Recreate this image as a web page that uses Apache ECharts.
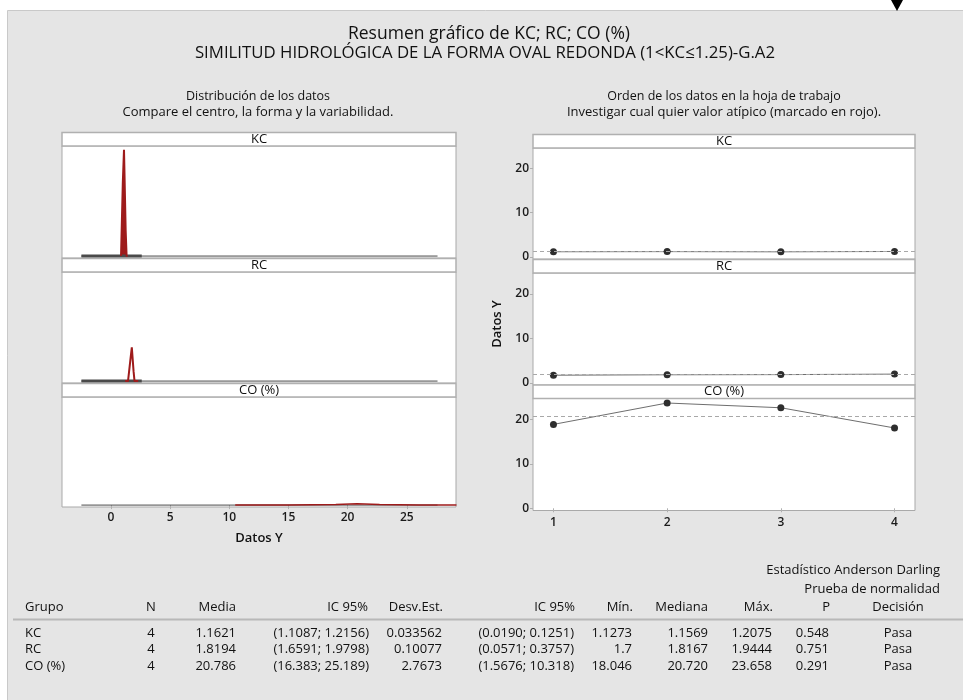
<!DOCTYPE html>
<html>
<head>
<meta charset="utf-8">
<title>Resumen gráfico de KC; RC; CO (%)</title>
<script src="https://cdn.jsdelivr.net/npm/echarts@6/dist/echarts.min.js"></script>
<style>
html, body { margin: 0; padding: 0; background: #fff; }
#main { width: 963px; height: 700px; }
</style>
</head>
<body>
<div id="main"></div>
<script>
// ---- datos ----
const groups = ['KC', 'RC', 'CO (%)'];
const orderX = [1, 2, 3, 4];
const kcValues = [1.1412, 1.1726, 1.1273, 1.2075];
const rcValues = [1.7, 1.7998, 1.8336, 1.9444];
const coValues = [18.85, 23.658, 22.59, 18.046];
const means = [1.1621, 1.8194, 20.786];

const kcDensity = [[0.85, 0], [0.95, 0], [1.0, 8.3], [1.08, 8.3], [1.1, 12.0], [1.22, 12.0], [1.24, 2.9], [1.3, 2.9], [1.32, 0], [1.4, 0]];
const rcDensity = [[1.2, 0], [1.44, 0], [1.63, 2.3], [1.76, 3.85], [1.82, 3.85], [1.91, 1.1], [1.99, 0], [2.3, 0]];
const coDensity = [[10.5, 0], [15, 0.02], [19, 0.08], [20.8, 0.14], [22.7, 0.08], [26, 0.02], [29.2, 0]];
const baseSpan = [[-2.5, 0], [27.6, 0]];
const lowSpan = [[-2.5, 0], [2.6, 0]];

const distTicks = [0, 5, 10, 15, 20, 25];
const orderTicks = [0, 10, 20];

// tabla
const colN = ['4', '4', '4'];
const colMedia = ['1.1621', '1.8194', '20.786'];
const colIcMedia = ['(1.1087; 1.2156)', '(1.6591; 1.9798)', '(16.383; 25.189)'];
const colDesv = ['0.033562', '0.10077', '2.7673'];
const colIcDesv = ['(0.0190; 0.1251)', '(0.0571; 0.3757)', '(1.5676; 10.318)'];
const colMin = ['1.1273', '1.7', '18.046'];
const colMediana = ['1.1569', '1.8167', '20.720'];
const colMax = ['1.2075', '1.9444', '23.658'];
const colP = ['0.548', '0.751', '0.291'];
const colDecision = ['Pasa', 'Pasa', 'Pasa'];

const FONT = '"Open Sans", "Noto Sans", sans-serif';
const RED = '#9e1b1b';

let chart = echarts.init(document.getElementById('main'));

function txt(x, y, text, size, align, weight, extra) {
    let el = {
        type: 'text', x: x, y: y, z: 20,
        style: {
            text: text, fontSize: size, fontFamily: FONT, fontWeight: weight || 'normal',
            fill: '#111', align: align || 'left', textAlign: align || 'left',
            verticalAlign: 'middle', textVerticalAlign: 'middle'
        }
    };
    return Object.assign(el, extra || {});
}

// grids: 0-2 distribucion, 3-5 orden
let grids = [
    { left: 62, top: 146, width: 394, height: 112 },
    { left: 62, top: 272, width: 394, height: 111 },
    { left: 62, top: 397, width: 394, height: 110 },
    { left: 533, top: 148, width: 382, height: 111 },
    { left: 533, top: 273, width: 382, height: 112 },
    { left: 533, top: 398.5, width: 382, height: 112 }
].map(g => Object.assign(g, { show: true, backgroundColor: '#fff', borderColor: '#a9a9a9', borderWidth: 1 }));

let xAxes = [], yAxes = [];
for (let i = 0; i < 3; i++) {
    let last = i === 2;
    xAxes.push({
        type: 'value', gridIndex: i, min: -4.14, max: 29.16,
        axisLine: { show: false },
        splitLine: { show: false },
        axisTick: { show: last, customValues: distTicks, length: 4, lineStyle: { color: '#b0b0b0' } },
        axisLabel: { show: last, customValues: distTicks, color: '#1a1a1a', fontSize: 12, fontWeight: 600, fontFamily: FONT, margin: 5 },
        name: last ? 'Datos Y' : '', nameLocation: 'middle', nameGap: 25,
        nameTextStyle: { color: '#111', fontSize: 13, fontWeight: 600, fontFamily: FONT }
    });
    yAxes.push({
        type: 'value', gridIndex: i, min: -0.22, max: 12.42,
        axisLine: { show: false }, axisTick: { show: false }, axisLabel: { show: false }, splitLine: { show: false }
    });
}
for (let i = 3; i < 6; i++) {
    let last = i === 5;
    xAxes.push({
        type: 'value', gridIndex: i, min: 0.82, max: 4.18,
        axisLine: { show: false },
        splitLine: { show: false },
        axisTick: { show: last, customValues: orderX, length: 4, lineStyle: { color: '#b0b0b0' } },
        axisLabel: { show: last, customValues: orderX, color: '#1a1a1a', fontSize: 12, fontWeight: 600, fontFamily: FONT, margin: 6 }
    });
    yAxes.push({
        type: 'value', gridIndex: i, min: -0.5, max: 24.67,
        axisLine: { show: false },
        splitLine: { show: false },
        axisTick: { show: true, customValues: orderTicks, length: 3, lineStyle: { color: '#b0b0b0' } },
        axisLabel: { show: true, customValues: orderTicks, color: '#1a1a1a', fontSize: 12, fontWeight: 600, fontFamily: FONT, margin: 4 }
    });
}

let series = [];
let densities = [kcDensity, rcDensity, coDensity];
densities.forEach(function (d, i) {
    series.push({
        type: 'line', xAxisIndex: i, yAxisIndex: i, data: baseSpan, showSymbol: false,
        lineStyle: { color: '#4a4a4a', width: 1 }, silent: true
    });
    if (i < 2) {
        series.push({
            type: 'line', xAxisIndex: i, yAxisIndex: i, data: lowSpan, showSymbol: false,
            lineStyle: { color: '#4a4a4a', width: 3 }, silent: true
        });
    }
    let s = {
        type: 'line', xAxisIndex: i, yAxisIndex: i, data: d, showSymbol: false,
        lineStyle: { color: RED, width: i === 2 ? 1.5 : 2 }, silent: true
    };
    if (i === 0) s.areaStyle = { color: RED, opacity: 1 };
    series.push(s);
});
[kcValues, rcValues, coValues].forEach(function (vals, i) {
    series.push({
        type: 'line', xAxisIndex: i + 3, yAxisIndex: i + 3,
        data: vals.map((v, k) => [orderX[k], v]),
        symbol: 'circle', symbolSize: 7,
        itemStyle: { color: '#2e2e2e' },
        lineStyle: { color: '#6e6e6e', width: 1 },
        markLine: {
            silent: true, symbol: 'none', label: { show: false },
            lineStyle: { color: '#a8a8a8', type: [4, 3], width: 1 },
            data: [{ yAxis: means[i] }]
        }
    });
});

// graficos: fondo, titulos, franjas, tabla
let graphic = [];
graphic.push({ type: 'rect', z: -10, shape: { x: 7.5, y: 10.5, width: 960, height: 700 }, style: { fill: '#e5e5e5', stroke: '#c9c9c9', lineWidth: 1 } });
graphic.push({ type: 'polygon', z: 30, shape: { points: [[891, 0], [903, 0], [897, 11]] }, style: { fill: '#000' } });

graphic.push(txt(489, 34, 'Resumen gráfico de KC; RC; CO (%)', 17.5, 'center'));
graphic.push(txt(485, 53, 'SIMILITUD HIDROLÓGICA DE LA FORMA OVAL REDONDA (1<KC≤1.25)-G.A2', 16.8, 'center'));
graphic.push(txt(258, 96, 'Distribución de los datos', 12.5, 'center', 500));
graphic.push(txt(258, 112, 'Compare el centro, la forma y la variabilidad.', 13, 'center'));
graphic.push(txt(724, 96, 'Orden de los datos en la hoja de trabajo', 12.5, 'center', 500));
graphic.push(txt(724, 112, 'Investigar cual quier valor atípico (marcado en rojo).', 13, 'center'));
graphic.push(txt(497, 324, 'Datos Y', 13, 'center', 600, { rotation: Math.PI / 2 }));

let stripsLeft = [132.5, 258.5, 383.5];
let stripsRight = [134.5, 259.5, 385];
groups.forEach(function (g, i) {
    graphic.push({ type: 'rect', z: 10, shape: { x: 62, y: stripsLeft[i], width: 394, height: 13.5 }, style: { fill: '#fff', stroke: '#b0b0b0', lineWidth: 1.5 } });
    graphic.push(txt(259, stripsLeft[i] + 6.5, g, 13, 'center'));
    graphic.push({ type: 'rect', z: 10, shape: { x: 533, y: stripsRight[i], width: 382, height: 13.5 }, style: { fill: '#fff', stroke: '#b0b0b0', lineWidth: 1.5 } });
    graphic.push(txt(724, stripsRight[i] + 6.5, g, 13, 'center'));
});

// tabla de estadisticos
graphic.push(txt(940, 570, 'Estadístico Anderson Darling', 13, 'right'));
graphic.push(txt(940, 589, 'Prueba de normalidad', 13, 'right'));
let headY = 607;
let heads = [
    [25, 'Grupo', 'left'], [151, 'N', 'center'], [236, 'Media', 'right'], [368, 'IC 95%', 'right'],
    [443, 'Desv.Est.', 'right'], [575, 'IC 95%', 'right'], [633, 'Mín.', 'right'], [708, 'Mediana', 'right'],
    [773, 'Máx.', 'right'], [830, 'P', 'right'], [898, 'Decisión', 'center']
];
heads.forEach(h => graphic.push(txt(h[0], headY, h[1], 13, h[2])));
graphic.push({ type: 'line', z: 5, shape: { x1: 13, y1: 619.5, x2: 963, y2: 619.5 }, style: { stroke: '#b8b8b8', lineWidth: 2 } });

let rowY = [633, 649, 666];
let cols = [
    [25, groups, 'left'], [151, colN, 'center'], [236, colMedia, 'right'], [369, colIcMedia, 'right'],
    [442, colDesv, 'right'], [574, colIcDesv, 'right'], [632, colMin, 'right'], [708, colMediana, 'right'],
    [772, colMax, 'right'], [829, colP, 'right'], [898, colDecision, 'center']
];
cols.forEach(function (c) {
    c[1].forEach((v, r) => graphic.push(txt(c[0], rowY[r], v, 13, c[2])));
});

let option = {
    animation: false,
    backgroundColor: '#fff',
    grid: grids,
    xAxis: xAxes,
    yAxis: yAxes,
    series: series,
    graphic: graphic
};
chart.setOption(option);
</script>
</body>
</html>
